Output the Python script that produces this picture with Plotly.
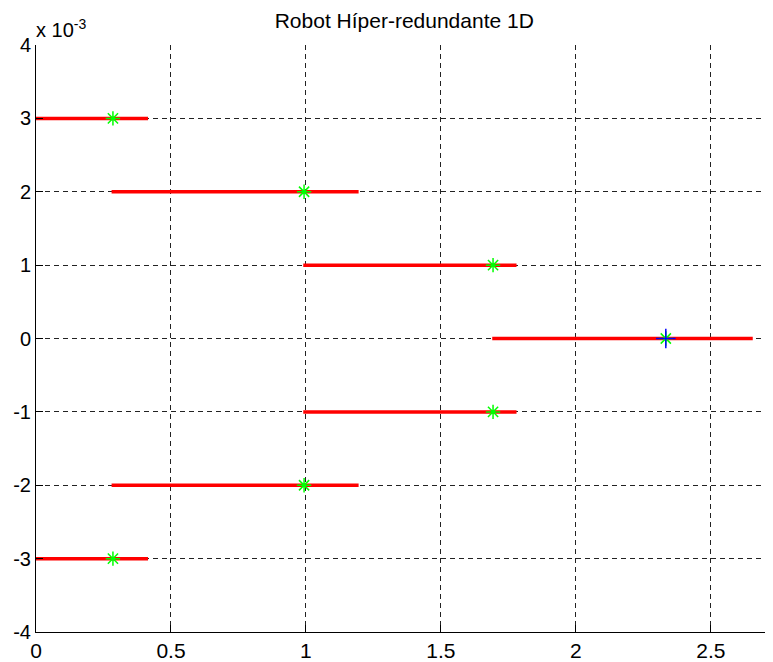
import plotly.graph_objects as go

# Data (y in real units; axis labels scaled by 1e-3)
link_y = [0.003, 0.002, 0.001, 0.0, -0.001, -0.002, -0.003]
link_x0 = [0.0, 0.28, 0.99, 1.69, 0.99, 0.28, 0.0]
link_x1 = [0.415, 1.195, 1.78, 2.655, 1.78, 1.195, 0.415]
joint_x = [0.285, 0.993, 1.693, 2.333, 1.693, 0.993, 0.285]
effector_x = [2.333]
effector_y = [0.0]

y_tickvals = [-0.004, -0.003, -0.002, -0.001, 0.0, 0.001, 0.002, 0.003, 0.004]
y_ticktext = ["-4", "-3", "-2", "-1", "0", "1", "2", "3", "4"]
x_tickvals = [0, 0.5, 1, 1.5, 2, 2.5]
x_ticktext = ["0", "0.5", "1", "1.5", "2", "2.5"]

fig = go.Figure()

for x0, x1, y in zip(link_x0, link_x1, link_y):
    fig.add_trace(go.Scatter(x=[x0, x1], y=[y, y], mode="lines",
                             line=dict(color="#ff0000", width=3.5),
                             showlegend=False, hoverinfo="skip"))

fig.add_trace(go.Scatter(x=joint_x, y=link_y, mode="markers",
                         marker=dict(symbol="asterisk-open", size=12, color="#00ff00",
                                     line=dict(color="#00ff00", width=1.5)),
                         showlegend=False))
fig.add_trace(go.Scatter(x=effector_x, y=effector_y, mode="markers",
                         marker=dict(symbol="cross-thin-open", size=14, color="#0000ff",
                                     line=dict(color="#0000ff", width=1.5)),
                         showlegend=False))

font_family = "Liberation Sans, Arial, sans-serif"

# The page body has an 8px margin, so the figure is sized/offset accordingly.
fig.update_layout(
    width=765, height=654,
    margin=dict(l=28, r=0, t=37, b=30),
    paper_bgcolor="white", plot_bgcolor="white",
    font=dict(family=font_family, color="black", size=18),
    title=dict(text="Robot Híper-redundante 1D", x=0.518, xanchor="center",
               y=0.981, yanchor="middle", font=dict(size=21, color="black")),
    xaxis=dict(range=[0, 2.73], tickvals=x_tickvals, ticktext=x_ticktext,
               automargin=False,
               showgrid=True, gridcolor="#222222", gridwidth=1, griddash="5px,4px",
               zeroline=False, showline=True, linecolor="black", linewidth=1,
               ticks="inside", ticklen=7, tickcolor="black",
               tickfont=dict(size=21)),
    yaxis=dict(range=[-0.004, 0.004], tickvals=y_tickvals, ticktext=y_ticktext,
               automargin=False,
               showgrid=True, gridcolor="#222222", gridwidth=1, griddash="5px,4px",
               zeroline=False, showline=True, linecolor="black", linewidth=1,
               ticks="inside", ticklen=7, tickcolor="black",
               tickfont=dict(size=20)),
    annotations=[dict(text="x 10<sup>-3</sup>", xref="paper", yref="paper",
                      x=0.0, y=1.0, xanchor="left", yanchor="bottom",
                      showarrow=False, font=dict(size=20, color="black"),
                      yshift=2, xshift=-2)],
)

fig.write_html("out.html")
